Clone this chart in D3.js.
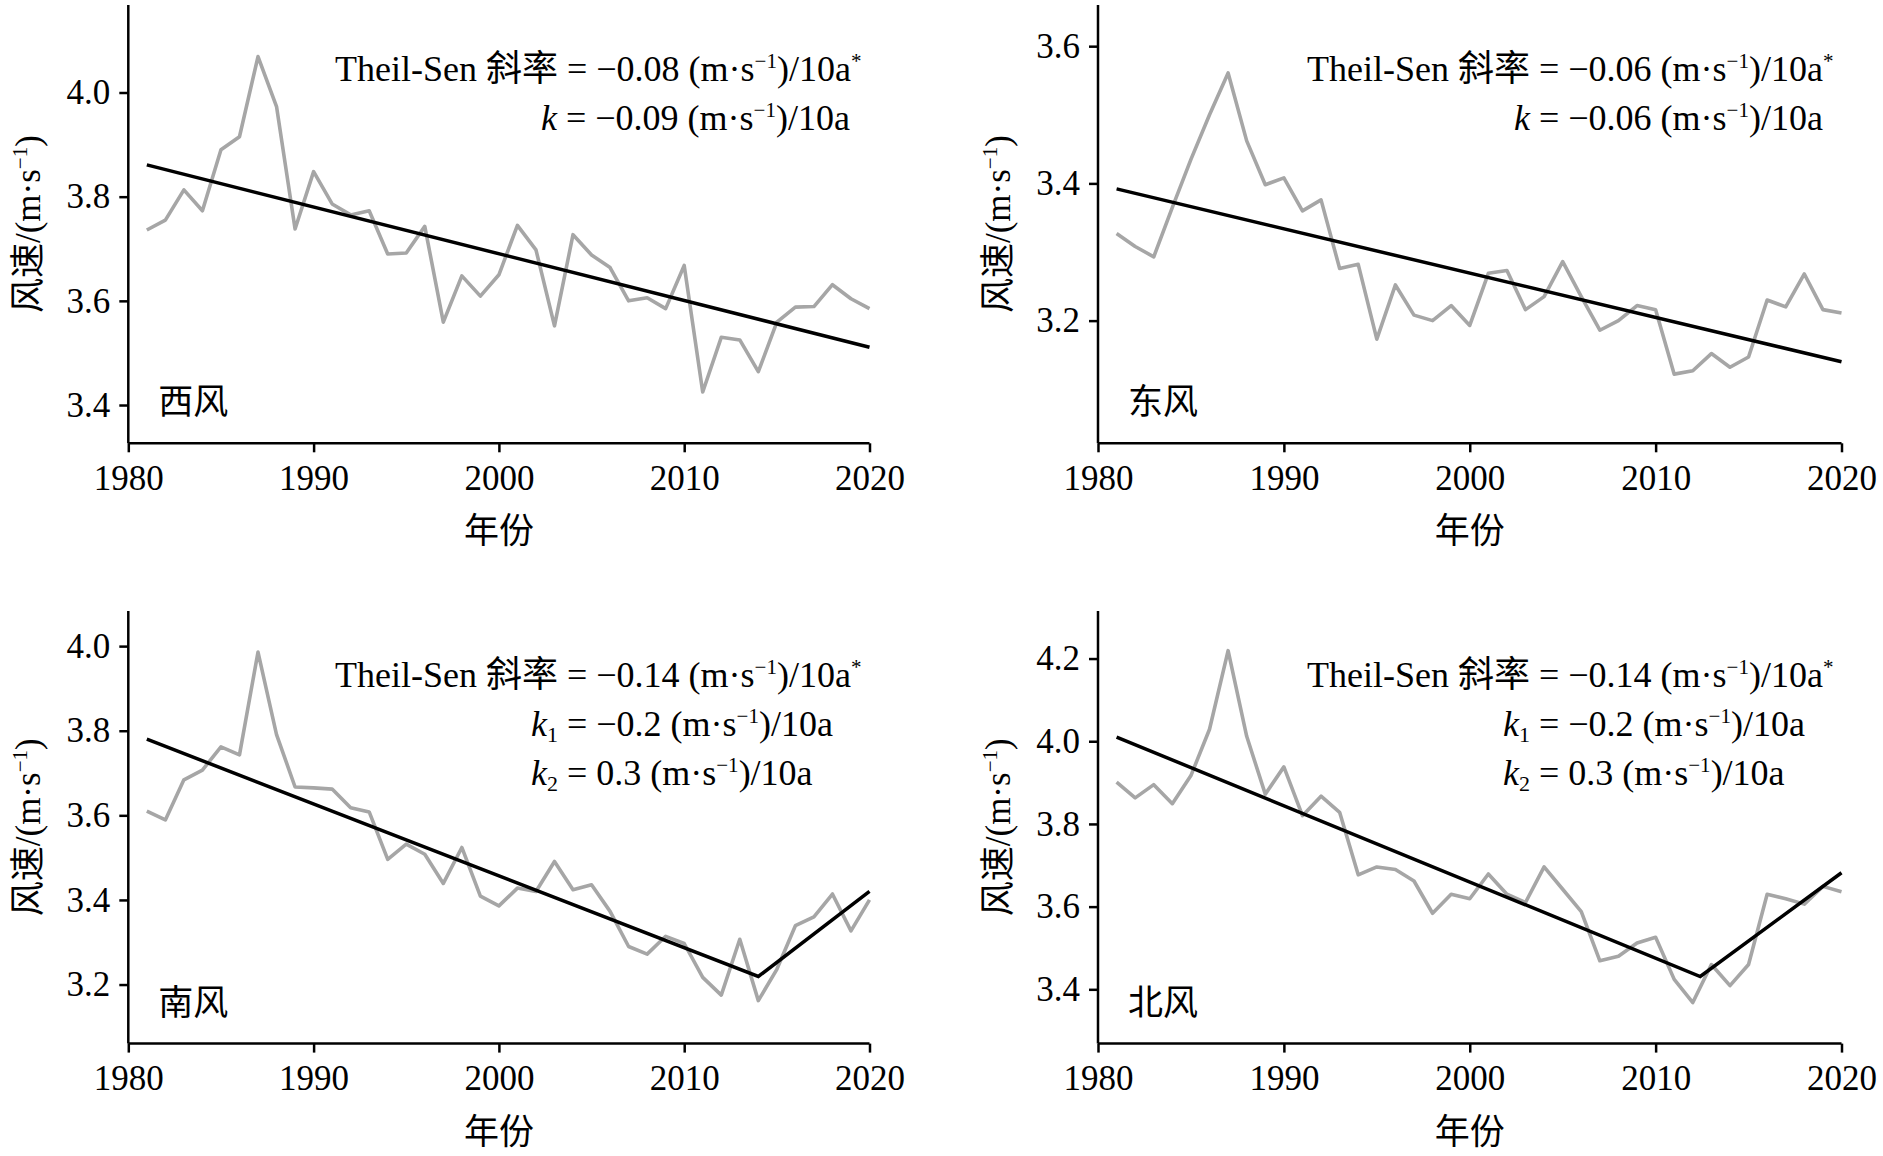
<!DOCTYPE html>
<html><head><meta charset="utf-8">
<script src="https://cdn.jsdelivr.net/npm/d3@7/dist/d3.min.js"></script>
<style>
html,body{margin:0;padding:0;background:#fff;}
svg text{font-family:"Liberation Serif","Noto Sans CJK SC",serif;fill:#000;}
.cjk{font-family:"Noto Sans CJK SC","Liberation Serif",sans-serif;}
</style></head>
<body>
<svg id="chart" width="1883" height="1156"></svg>
<script>
// ---------- data ----------
const years = [1981,1982,1983,1984,1985,1986,1987,1988,1989,1990,1991,1992,1993,1994,1995,1996,1997,1998,1999,2000,
               2001,2002,2003,2004,2005,2006,2007,2008,2009,2010,2011,2012,2013,2014,2015,2016,2017,2018,2019,2020];
const westWind = [3.736,3.755,3.813,3.773,3.890,3.915,4.069,3.973,3.738,3.848,3.786,3.765,3.773,3.690,3.692,3.743,3.559,3.648,3.609,3.650,
                  3.745,3.698,3.552,3.727,3.688,3.664,3.600,3.606,3.585,3.668,3.425,3.530,3.525,3.464,3.559,3.588,3.589,3.631,3.604,3.585];
const eastWind = [3.327,3.308,3.293,3.365,3.435,3.500,3.561,3.462,3.398,3.408,3.360,3.376,3.276,3.282,3.173,3.252,3.208,3.200,3.222,3.193,
                  3.269,3.273,3.216,3.235,3.286,3.235,3.186,3.200,3.222,3.216,3.122,3.127,3.152,3.132,3.147,3.230,3.220,3.268,3.216,3.211];
const southWind = [3.610,3.589,3.684,3.707,3.762,3.743,3.986,3.791,3.667,3.665,3.662,3.618,3.608,3.496,3.532,3.508,3.439,3.524,3.409,3.386,
                   3.428,3.420,3.491,3.424,3.436,3.373,3.290,3.272,3.314,3.297,3.217,3.175,3.307,3.162,3.236,3.339,3.360,3.414,3.327,3.400];
const northWind = [3.901,3.863,3.895,3.849,3.917,4.029,4.219,4.012,3.872,3.938,3.820,3.867,3.828,3.677,3.696,3.690,3.662,3.584,3.630,3.619,
                   3.679,3.630,3.610,3.696,3.642,3.588,3.469,3.480,3.512,3.526,3.424,3.368,3.460,3.409,3.460,3.630,3.619,3.606,3.649,3.636];

// fitted trend lines (breakpoints)
const westTrendYears = [1981, 2020],        westTrendValues = [3.861, 3.511];
const eastTrendYears = [1981, 2020],        eastTrendValues = [3.392, 3.140];
const southTrendYears = [1981, 2014, 2020], southTrendValues = [3.780, 3.219, 3.420];
const northTrendYears = [1981, 2012.4, 2020], northTrendValues = [4.010, 3.431, 3.682];

// tick labels
const xTicks = [1980, 1990, 2000, 2010, 2020];
const westYTicks = [3.4, 3.6, 3.8, 4.0];
const eastYTicks = [3.2, 3.4, 3.6];
const southYTicks = [3.2, 3.4, 3.6, 3.8, 4.0];
const northYTicks = [3.4, 3.6, 3.8, 4.0, 4.2];

// text
const panelNames = ["西风", "东风", "南风", "北风"];
const theilSlopes = ["−0.08", "−0.06", "−0.14", "−0.14"];
const westK = ["−0.09"], eastK = ["−0.06"], southK = ["−0.2", "0.3"], northK = ["−0.2", "0.3"];
const xLabel = "年份";

// ---------- layout ----------
const svg = d3.select("#chart");
const FS = 35;

const panels = [
  {name: panelNames[0], values: westWind, tY: westTrendYears, tV: westTrendValues, yTicks: westYTicks,
   theil: theilSlopes[0], ks: westK, x0: 128.3, x1: 869.5, yTop: 5, yBot: 443.3, dom: [3.3265, 4.168],
   line1X: 335, kX: 541},
  {name: panelNames[1], values: eastWind, tY: eastTrendYears, tV: eastTrendValues, yTicks: eastYTicks,
   theil: theilSlopes[1], ks: eastK, x0: 1098, x1: 1841.5, yTop: 5, yBot: 443.3, dom: [3.0212, 3.660],
   line1X: 1307, kX: 1514},
  {name: panelNames[2], values: southWind, tY: southTrendYears, tV: southTrendValues, yTicks: southYTicks,
   theil: theilSlopes[2], ks: southK, x0: 128.3, x1: 869.5, yTop: 611, yBot: 1043.6, dom: [3.0604, 4.083],
   line1X: 335, kX: 531},
  {name: panelNames[3], values: northWind, tY: northTrendYears, tV: northTrendValues, yTicks: northYTicks,
   theil: theilSlopes[3], ks: northK, x0: 1098, x1: 1841.5, yTop: 611, yBot: 1043.6, dom: [3.2687, 4.315],
   line1X: 1307, kX: 1503}
];

// parts: {t, s}: s = "i" italic, "cjk", "sup", "sub"; text following sup/sub is restored to baseline
function addParts(textSel, parts) {
  let shift = 0;
  parts.forEach(p => {
    const ts = textSel.append("tspan").text(p.t);
    let target = 0;
    if (p.s === "sup") { target = -13; ts.attr("font-size", 21); }
    if (p.s === "sub") { target = 6; ts.attr("font-size", 22); }
    if (p.s === "i") ts.attr("font-style", "italic");
    if (p.s === "cjk") ts.attr("class", "cjk");
    if (target !== shift) { ts.attr("dy", target - shift); shift = target; }
    if (p.dx) ts.attr("dx", p.dx);
  });
}

panels.forEach((p, idx) => {
  const x = d3.scaleLinear().domain([1980, 2020]).range([p.x0, p.x1]);
  const y = d3.scaleLinear().domain(p.dom).range([p.yBot, p.yTop]);
  const g = svg.append("g");

  // axes
  const xAxis = d3.axisBottom(x).tickValues(xTicks).tickFormat(d3.format("d")).tickSize(9).tickPadding(13);
  const yAxis = d3.axisLeft(y).tickValues(p.yTicks).tickFormat(d3.format(".1f")).tickSize(9).tickPadding(9);
  const gx = g.append("g").attr("transform", `translate(0,${p.yBot})`).call(xAxis);
  const gy = g.append("g").attr("transform", `translate(${p.x0},0)`).call(yAxis);
  [gx, gy].forEach(a => {
    a.selectAll("path.domain").attr("stroke", "#000").attr("stroke-width", 2.5);
    a.selectAll(".tick line").attr("stroke", "#000").attr("stroke-width", 2.5);
    a.selectAll(".tick text").attr("font-size", FS).attr("font-family", "Liberation Serif").attr("fill", "#000");
  });
  gx.select("path.domain").attr("d", `M${p.x0},0H${p.x1}`);
  gy.select("path.domain").attr("d", `M0,${p.yBot}V${p.yTop}`);

  // series
  const line = d3.line().x((d, i) => x(years[i])).y(d => y(d));
  g.append("path").datum(p.values).attr("d", line)
    .attr("fill", "none").attr("stroke", "#a6a6a6").attr("stroke-width", 3.6).attr("stroke-linejoin", "round");
  const tline = d3.line().x(d => x(d[0])).y(d => y(d[1]));
  g.append("path").datum(p.tY.map((yy, i) => [yy, p.tV[i]])).attr("d", tline)
    .attr("fill", "none").attr("stroke", "#000").attr("stroke-width", 3.5).attr("stroke-linejoin", "miter");

  // labels
  g.append("text").attr("class", "cjk").attr("x", (p.x0 + p.x1) / 2).attr("y", p.yBot + 100)
    .attr("text-anchor", "middle").attr("font-size", FS).text(xLabel);
  const yl = g.append("text").attr("font-size", FS).attr("text-anchor", "middle")
    .attr("transform", `translate(${p.x0 - 88},${(p.yTop + p.yBot) / 2}) rotate(-90)`);
  addParts(yl, [{t: "风速", s: "cjk"}, {t: "/(m·s"}, {t: "−1", s: "sup"}, {t: ")"}]);

  g.append("text").attr("class", "cjk").attr("x", p.x0 + 30).attr("y", p.yBot - 29)
    .attr("font-size", FS).text(p.name);

  // annotation
  const base = p.yTop + 76;
  const t1 = g.append("text").attr("x", p.line1X).attr("y", base).attr("font-size", FS + 1);
  addParts(t1, [{t: "Theil-Sen "}, {t: "斜率", s: "cjk"}, {t: " = " + p.theil + " (m·s"},
                {t: "−1", s: "sup"}, {t: ")/10a"}, {t: "*", s: "sup"}]);
  p.ks.forEach((kv, i) => {
    const tk = g.append("text").attr("x", p.kX).attr("y", base + 49 * (i + 1)).attr("font-size", FS + 1);
    const parts = [{t: "k", s: "i"}];
    if (p.ks.length > 1) parts.push({t: String(i + 1), s: "sub"});
    parts.push({t: " = " + kv + " (m·s"}, {t: "−1", s: "sup"}, {t: ")/10a"});
    addParts(tk, parts);
  });
});
</script>
</body></html>
